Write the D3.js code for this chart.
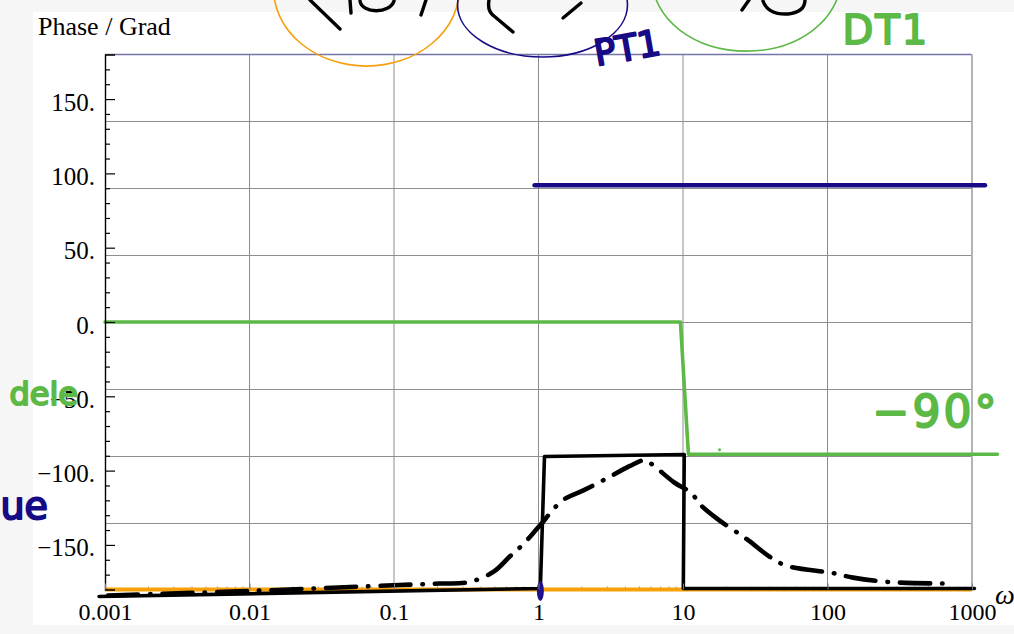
<!DOCTYPE html>
<html><head><meta charset="utf-8">
<script src="https://cdn.jsdelivr.net/npm/d3@7"></script>
<style>
html,body{margin:0;padding:0;background:#f6f6f6;}
svg{display:block;}
</style></head><body>
<svg id="chart" width="1014" height="634"></svg>
<script>
// ---- axes ----
const decades = [0.001, 0.01, 0.1, 1, 10, 100, 1000];
const decadeLabels = ["0.001", "0.01", "0.1", "1", "10", "100", "1000"];
const phaseTicks = [150, 100, 50, 0, -50, -100, -150];
const phaseTickLabels = ["150.", "100.", "50.", "0.", "\u221250.", "\u2212100.", "\u2212150."];
const phaseGrid = [-135, -90, -45, 0, 45, 90, 135];

// ---- plotted phase (constant -180°) ----
const plotOmega = [0.001, 1000];
const plotPhase = [-180, -180];

// ---- sketched asymptotes ----
const ptOmega = [0.94, 1230];
const ptPhase = [92, 92];
const dtOmega = [0.001, 9.6, 10.9, 1500];
const dtPhase = [0, 0, -89, -89];
const stepOmega = [0.00091, 1.03, 1.1, 10.2, 10.05, 1040];
const stepPhase = [-184.7, -179.3, -90.5, -89.2, -179.3, -179.3];

// ---- sketched exact course (dash-dot) ----
const curveOmega = [0.00105, 0.01, 0.109, 0.206, 0.33, 0.49, 0.63, 0.775, 1.0, 1.47, 2.08, 3.0, 4.26, 5.4, 5.95, 8.7, 11.4, 13.2, 17.0, 27.5, 39.8, 52, 110, 150, 268, 700];
const curvePhase = [-184, -181, -177, -176, -175, -168, -158, -150, -138, -120, -113, -105, -97, -93, -95, -108, -115, -123, -132, -146, -158, -164, -169, -172, -175, -176];

// ---- handwritten notes (position in ω / degrees) ----
const noteTexts = ["PT1", "DT1", "\u221290\u00b0", "dele", "ue"];
const noteOmega = [2.52, 127, 205, 0.000218, 0.000189];
const notePhase = [172.3, 187, -70.7, -56, -132.5];
const noteColor = ["#170a86", "#5cb946", "#5cb946", "#5cb946", "#170a86"];
const noteSize = [36, 40, 44, 32, 38];
const noteSpacing = [0, 2, 3, 0, 0];
const noteTilt = [-10, 0, 0, 0, 0];

// circled factors: centre (ω, deg), radius (decades, deg)
const ringOmega = [0.0645, 1.066, 27.5];
const ringPhase = [224.7, 213.3, 230.1];
const ringDec = [0.644, 0.588, 0.65];
const ringDeg = [52.5, 35, 47.8];
const ringColor = ["#f5a00f", "#170a86", "#5cb946"];

const svg = d3.select("#chart");
const W = 1014, H = 634;

const x = d3.scaleLog().domain([0.001, 1000]).range([105, 972]);
const y = d3.scaleLinear().domain([-180, 180]).range([589.5, 54.5]);

// page
svg.append("rect").attr("x", 0).attr("y", 0).attr("width", W).attr("height", H).attr("fill", "#f6f6f6");
svg.append("rect").attr("x", 33).attr("y", 12).attr("width", W - 33).attr("height", 613).attr("fill", "#ffffff");

// grid
const grid = svg.append("g");
grid.selectAll("line.v").data(decades.slice(1, -1)).join("line")
  .attr("x1", d => x(d)).attr("x2", d => x(d))
  .attr("y1", y(180)).attr("y2", y(-180))
  .attr("stroke", "#8e8e8e").attr("stroke-width", 1);
grid.selectAll("line.h").data(phaseGrid).join("line")
  .attr("x1", x(0.001)).attr("x2", x(1000))
  .attr("y1", d => Math.round(y(d)) + 0.5).attr("y2", d => Math.round(y(d)) + 0.5)
  .attr("stroke", "#8e8e8e").attr("stroke-width", 1);

// frame
svg.append("line").attr("x1", x(0.001)).attr("x2", x(1000)).attr("y1", y(180)).attr("y2", y(180))
  .attr("stroke", "#7474a8").attr("stroke-width", 1.6);
svg.append("line").attr("x1", x(1000)).attr("x2", x(1000)).attr("y1", y(180)).attr("y2", y(-180))
  .attr("stroke", "#b4b4b4").attr("stroke-width", 2);

// minor frequency ticks
const minorOmega = [];
decades.slice(0, -1).forEach(d => { for (let k = 2; k <= 9; k++) minorOmega.push(d * k); });
svg.selectAll("line.mx").data(minorOmega).join("line")
  .attr("x1", d => x(d)).attr("x2", d => x(d))
  .attr("y1", y(-180)).attr("y2", y(-180) - 3)
  .attr("stroke", "#999").attr("stroke-width", 1);

const line = d3.line().x(d => x(d[0])).y(d => y(d[1]));
const zip = (a, b) => a.map((v, i) => [v, b[i]]);

// plotted -180° phase
svg.append("path").attr("d", line(zip(plotOmega, plotPhase)))
  .attr("fill", "none").attr("stroke", "#f7a10a").attr("stroke-width", 4);

// sketched step asymptote
svg.append("path").attr("d", line(zip(stepOmega, stepPhase)))
  .attr("fill", "none").attr("stroke", "#000").attr("stroke-width", 3.6)
  .attr("stroke-linejoin", "round").attr("stroke-linecap", "round");

// sketched exact course
svg.append("path").attr("d", d3.line().curve(d3.curveCatmullRom).x(d => x(d[0])).y(d => y(d[1]))(zip(curveOmega, curvePhase)))
  .attr("fill", "none").attr("stroke", "#000").attr("stroke-width", 4.6)
  .attr("stroke-linecap", "round").attr("stroke-dasharray", "30 12 0.5 12");

// DT1 asymptote
svg.append("path").attr("d", line(zip(dtOmega, dtPhase)))
  .attr("fill", "none").attr("stroke", "#5cb946").attr("stroke-width", 3.6)
  .attr("stroke-linejoin", "round").attr("stroke-linecap", "round");

// PT1 asymptote
svg.append("path").attr("d", line(zip(ptOmega, ptPhase)))
  .attr("fill", "none").attr("stroke", "#170a86").attr("stroke-width", 4.6)
  .attr("stroke-linecap", "round");

// corner marker and stray dot
svg.append("ellipse").attr("cx", x(1.03)).attr("cy", y(-181)).attr("rx", 3.5).attr("ry", 10)
  .attr("fill", "#1e1190");
svg.append("circle").attr("cx", x(17.9)).attr("cy", y(-86)).attr("r", 1.5).attr("fill", "#5cb946");

// left axis
const yAxis = d3.axisLeft(y).tickValues(phaseTicks).tickSize(-10).tickPadding(10)
  .tickFormat((d, i) => phaseTickLabels[i]);
const gy = svg.append("g").attr("transform", `translate(${x(0.001)},0)`).call(yAxis);
gy.select(".domain").attr("stroke", "#000").attr("stroke-width", 1.4);
gy.selectAll(".tick line").attr("stroke", "#000").attr("stroke-width", 1.2);
gy.selectAll(".tick text").attr("font-family", "'Liberation Serif', 'Times New Roman', serif")
  .attr("font-size", 25).attr("fill", "#000").attr("dy", 11);
const yMinor = d3.axisLeft(y).tickValues(d3.range(-170, 180, 10).filter(v => v % 50 !== 0))
  .tickSize(-5).tickFormat("");
const gy2 = svg.append("g").attr("transform", `translate(${x(0.001)},0)`).call(yMinor);
gy2.select(".domain").remove();
gy2.selectAll(".tick line").attr("stroke", "#000").attr("stroke-width", 1.2);

// bottom axis labels
const xAxis = d3.axisBottom(x).tickValues(decades).tickSize(-6).tickFormat((d, i) => decadeLabels[i]);
const gx = svg.append("g").attr("transform", `translate(0,${y(-180)})`).call(xAxis);
gx.select(".domain").remove();
gx.selectAll(".tick line").attr("stroke", "#777");
gx.selectAll(".tick text").attr("font-family", "'Liberation Serif', 'Times New Roman', serif")
  .attr("font-size", 24).attr("fill", "#000").attr("y", 30).attr("dy", 0);

// axis titles
svg.append("text").attr("x", 38).attr("y", 35).text("Phase / Grad")
  .attr("font-family", "'Liberation Serif', 'Times New Roman', serif").attr("font-size", 26);
svg.append("text").attr("x", 995).attr("y", 604).text("\u03c9")
  .attr("font-family", "'Liberation Serif', 'Times New Roman', serif").attr("font-style", "italic").attr("font-size", 28);

// circled factors
ringOmega.forEach((w, i) => {
  const cx = x(w), cy = y(ringPhase[i]);
  svg.append("ellipse").attr("cx", cx).attr("cy", cy)
    .attr("rx", x(w * Math.pow(10, ringDec[i])) - cx)
    .attr("ry", Math.abs(y(ringPhase[i] + ringDeg[i]) - cy))
    .attr("fill", "none").attr("stroke", ringColor[i]).attr("stroke-width", 1.6);
});

// handwritten factor fragments above the frame
const ink = ["M310,0 L340,29", "M350,0 L351,13", "M360,1 C362,14 390,14 394,1", "M421,15 L426,0",
  "M489,0 Q487,11 494,16 L513,32", "M563,18 L581,3", "M742,10 L749,0", "M763,1 Q768,15 788,14 Q805,12 805,0"];
svg.selectAll("path.ink").data(ink).join("path").attr("d", d => d)
  .attr("fill", "none").attr("stroke", "#000").attr("stroke-width", 3.4).attr("stroke-linecap", "round");

// handwritten notes
noteTexts.forEach((t, i) => {
  const px = x(noteOmega[i]), py = y(notePhase[i]);
  svg.append("text").attr("x", px).attr("y", py)
    .attr("transform", `rotate(${noteTilt[i]},${px},${py})`)
    .text(t).attr("font-family", "'DejaVu Sans', sans-serif").attr("font-size", noteSize[i])
    .attr("letter-spacing", noteSpacing[i])
    .attr("fill", noteColor[i]).attr("stroke", noteColor[i]).attr("stroke-width", 2)
    .attr("stroke-linejoin", "round");
});
svg.append("path").attr("d", `M${x(0.00018)},${y(-83)} L${x(0.000152)},${y(-111)}`)
  .attr("stroke", "#170a86").attr("stroke-width", 4).attr("stroke-linecap", "round");
</script>
</body></html>
